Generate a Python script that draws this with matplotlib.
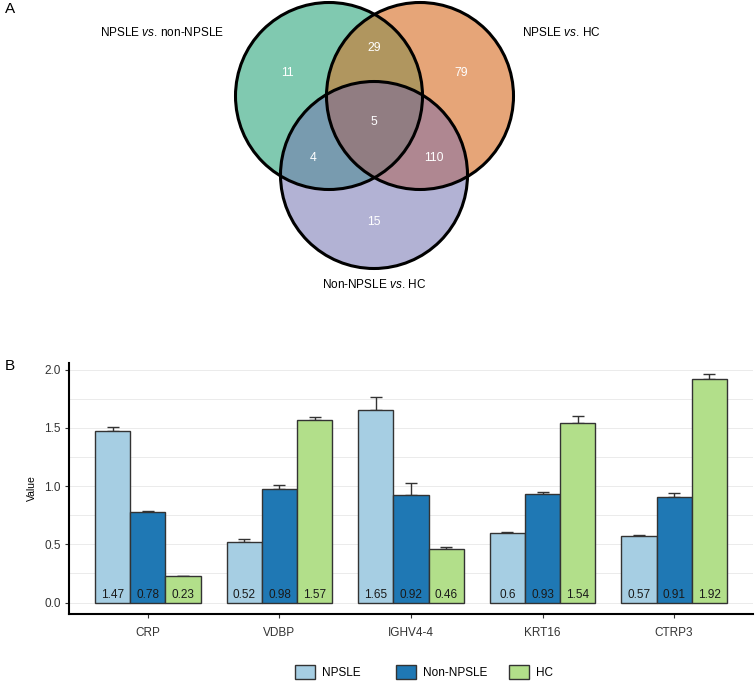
import numpy as np
import matplotlib
matplotlib.use("Agg")
import matplotlib.pyplot as plt
from matplotlib.patches import Circle, Patch

plt.rcParams['font.family'] = ['Liberation Sans', 'DejaVu Sans']
plt.rcParams['mathtext.fontset'] = 'custom'
plt.rcParams['mathtext.it'] = 'Liberation Sans:italic'
plt.rcParams['mathtext.rm'] = 'Liberation Sans'

# ---------------- data ----------------
set_names = [r"NPSLE $\mathit{vs.}\/$non-NPSLE", r"NPSLE $\mathit{vs.}\/$HC", r"Non-NPSLE $\mathit{vs.}\/$HC"]
# region counts: only A, only B, only C, A&B, A&C, B&C, A&B&C
only_a, only_b, only_c = 11, 79, 15
ab, ac, bc, abc = 29, 4, 110, 5

proteins = ["CRP", "VDBP", "IGHV4-4", "KRT16", "CTRP3"]
groups = ["NPSLE", "Non-NPSLE", "HC"]
npsle = [1.47, 0.52, 1.65, 0.60, 0.57]
non_npsle = [0.78, 0.98, 0.92, 0.93, 0.91]
hc = [0.23, 1.57, 0.46, 1.54, 1.92]
npsle_err = [0.04, 0.03, 0.12, 0.01, 0.01]
non_npsle_err = [0.01, 0.03, 0.11, 0.02, 0.03]
hc_err = [0.0, 0.02, 0.02, 0.06, 0.04]
bar_labels = [["1.47", "0.52", "1.65", "0.6", "0.57"],
              ["0.78", "0.98", "0.92", "0.93", "0.91"],
              ["0.23", "1.57", "0.46", "1.54", "1.92"]]

W, H = 755, 683
fig = plt.figure(figsize=(W / 100, H / 100), dpi=100)

# ---------------- Venn (panel A) ----------------
vh = 300
axv = fig.add_axes([0, 1 - vh / H, 1, vh / H])
axv.set_xlim(0, W)
axv.set_ylim(vh, 0)
axv.axis('off')

centers = [(329, 96), (420, 96), (374, 175)]
r = 93.5
yy, xx = np.mgrid[0:vh, 0:W] + 0.5
inA = (xx - centers[0][0]) ** 2 + (yy - centers[0][1]) ** 2 <= r ** 2
inB = (xx - centers[1][0]) ** 2 + (yy - centers[1][1]) ** 2 <= r ** 2
inC = (xx - centers[2][0]) ** 2 + (yy - centers[2][1]) ** 2 <= r ** 2
img = np.ones((vh, W, 4))
img[..., 3] = 0
region_colors = [
    (inA & ~inB & ~inC, "#80C9B0"),
    (~inA & inB & ~inC, "#E6A578"),
    (~inA & ~inB & inC, "#B2B2D4"),
    (inA & inB & ~inC, "#B0965F"),
    (inA & ~inB & inC, "#789BAF"),
    (~inA & inB & inC, "#AF8791"),
    (inA & inB & inC, "#917D82"),
]
for mask, col in region_colors:
    img[mask] = matplotlib.colors.to_rgba(col)
axv.imshow(img, extent=(0, W, vh, 0), interpolation='nearest', zorder=1)
for c in centers:
    axv.add_patch(Circle(c, r, fill=False, ec='black', lw=2.2, zorder=2))

counts = [only_a, only_b, only_c, ab, ac, bc, abc]
count_pos = [(287, 73), (461, 73), (374, 222), (374, 48), (313, 158), (434, 158), (374, 122)]
for n, (x, y) in zip(counts, count_pos):
    axv.text(x, y, str(n), color='white', fontsize=8.8, ha='center', va='center', zorder=3)

axv.text(224, 33, set_names[0], fontsize=8.5, ha='right', va='center')
axv.text(522, 33, set_names[1], fontsize=8.5, ha='left', va='center')
axv.text(374, 285, set_names[2], fontsize=8.5, ha='center', va='center')
fig.text(5 / W, 1 - 9 / H, "A", fontsize=11, ha='left', va='center')

# ---------------- Bar chart (panel B) ----------------
left, right, bottom, top = 69, 753, 614, 363
ax = fig.add_axes([left / W, 1 - bottom / H, (right - left) / W, (bottom - top) / H])
x = np.arange(len(proteins))
bw = 0.8 / 3
colors = ["#A6CEE3", "#1F78B4", "#B2DF8A"]
vals = [npsle, non_npsle, hc]
errs = [npsle_err, non_npsle_err, hc_err]
for i in range(3):
    pos = x + (i - 1) * bw
    ax.bar(pos, vals[i], width=bw, color=colors[i], edgecolor='#333333', lw=1.0, zorder=3, label=groups[i])
    ax.errorbar(pos, vals[i], yerr=[np.zeros(len(x)), errs[i]], fmt='none', ecolor='#333333',
                elinewidth=1.0, capsize=4.5, capthick=1.0, zorder=2)
    for p, lab in zip(pos, bar_labels[i]):
        ax.text(p, 0.065, lab, ha='center', va='center', fontsize=8.5, color='#1a1a1a', zorder=4)

ax.set_xlim(-0.6, 4.6)
ax.set_ylim(-0.098, 2.058)
ax.set_xticks(x)
ax.set_xticklabels(proteins, fontsize=8.5)
ax.set_yticks([0, 0.5, 1.0, 1.5, 2.0])
ax.set_yticklabels(["0.0", "0.5", "1.0", "1.5", "2.0"], fontsize=8.5)
ax.set_yticks([0.25, 0.75, 1.25, 1.75], minor=True)
ax.grid(axis='y', which='both', color='#EBEBEB', lw=0.7, zorder=0)
ax.set_axisbelow(True)
for s in ['top', 'right']:
    ax.spines[s].set_visible(False)
for s in ['left', 'bottom']:
    ax.spines[s].set_linewidth(1.5)
ax.tick_params(axis='both', which='major', length=3, color='#333333', labelcolor='#333333', pad=3)
ax.tick_params(axis='x', pad=6)
ax.tick_params(axis='y', which='minor', length=0)
ax.set_ylabel("Value", fontsize=7.5, labelpad=5)

# legend: one entry per group, placed at the reference positions
legend_x = [295, 396, 509]
for i in range(3):
    h = Patch(facecolor=colors[i], edgecolor='#333333', lw=1.0, label=groups[i])
    fig.legend(handles=[h], loc='center left', bbox_to_anchor=(legend_x[i] / W, 1 - 672 / H),
               frameon=False, fontsize=8.5, handlelength=1.7, handleheight=1.4,
               handletextpad=0.6, borderpad=0, borderaxespad=0)
fig.text(5 / W, 1 - 366 / H, "B", fontsize=11, ha='left', va='center')

fig.savefig("out.png", dpi=100)
